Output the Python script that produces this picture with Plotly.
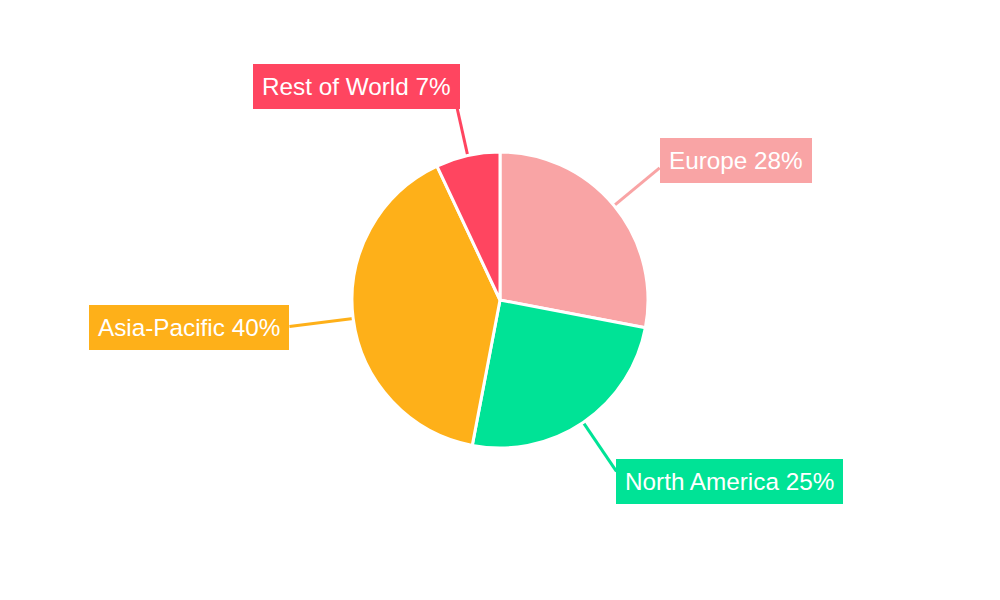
import math
import plotly.graph_objects as go

regions = ["Europe", "North America", "Asia-Pacific", "Rest of World"]
shares = [28, 25, 40, 7]
colors = ["#F9A4A5", "#00E396", "#FEB019", "#FF4560"]

W, H = 1000, 600
CX, CY, R = 500, 300, 148
LINE_R = 1.4 * R

fig = go.Figure(go.Pie(
    labels=regions,
    values=shares,
    sort=False,
    direction="clockwise",
    rotation=0,
    textinfo="none",
    hoverinfo="label+percent",
    marker=dict(colors=colors, line=dict(color="white", width=3)),
    domain=dict(x=[0, 1], y=[(CY - R) / H, (CY + R) / H]),
    showlegend=False,
))

total = sum(shares)
cum = 0
shapes = []
annotations = []
for name, v, c in zip(regions, shares, colors):
    mid = (cum + v / 2) / total * 2 * math.pi
    cum += v
    s, co = math.sin(mid), math.cos(mid)
    x0, y0 = CX + R * s, CY - R * co
    x1, y1 = CX + LINE_R * s, CY - LINE_R * co
    by = y1 - 12 * co
    bx = x1 + (5 if co >= 0 else -5) if s < 0 else x1
    # extend the leader so it meets the label box when the box sits farther out
    if abs(s) > 0.9 and abs(bx - CX) > abs(x1 - CX):
        r_end = (bx - CX) / s
        x1, y1 = CX + r_end * s, CY - r_end * co
    shapes.append(dict(
        type="line", xref="paper", yref="paper",
        x0=x0 / W, y0=1 - y0 / H, x1=x1 / W, y1=1 - y1 / H,
        line=dict(color=c, width=3), layer="below",
    ))
    annotations.append(dict(
        xref="paper", yref="paper",
        x=bx / W, y=1 - by / H,
        xanchor="left" if s >= 0 else "right",
        yanchor="middle",
        text=f"{name} {round(v / total * 100)}%",
        showarrow=False,
        font=dict(family="Liberation Sans, Arial, sans-serif", size=24.3, color="white"),
        bgcolor=c,
        borderpad=9,
        borderwidth=0,
    ))

fig.update_layout(
    width=W, height=H,
    margin=dict(l=0, r=0, t=0, b=0),
    paper_bgcolor="white",
    plot_bgcolor="white",
    shapes=shapes,
    annotations=annotations,
)

fig.write_html("out.html", config={"displayModeBar": False},
               post_script="document.body.style.margin='0';")
